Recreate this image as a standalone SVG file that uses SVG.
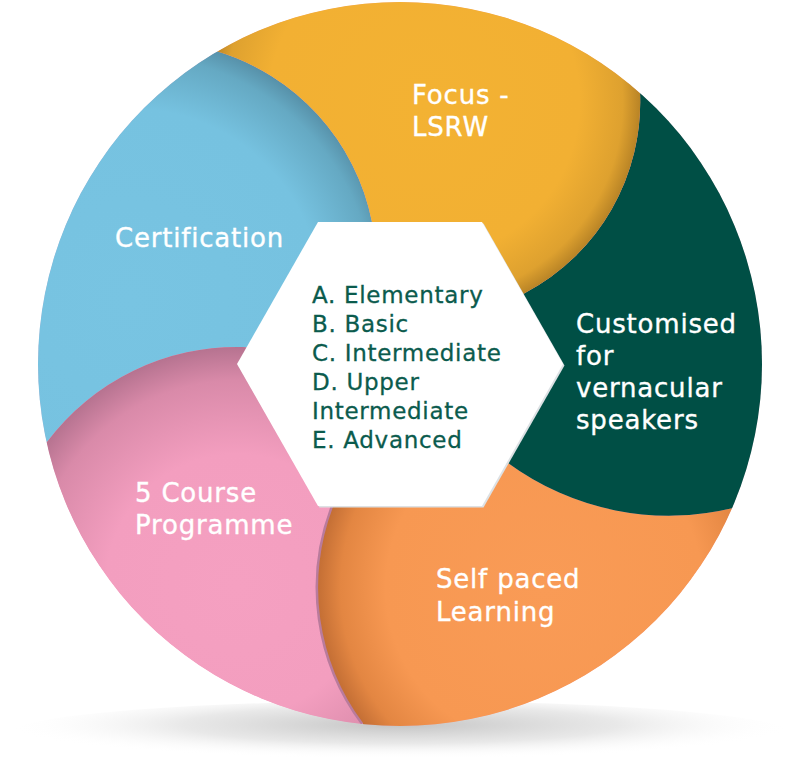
<svg xmlns="http://www.w3.org/2000/svg" width="800" height="765" viewBox="0 0 800 765">
<defs>
<style>
.lbl{font-family:"DejaVu Sans",sans-serif;font-size:26px;fill:#ffffff;stroke:#ffffff;stroke-width:0.35px;letter-spacing:0.8px}
.lst{font-family:"DejaVu Sans",sans-serif;font-size:23px;fill:#0b5b4d;stroke:#0b5b4d;stroke-width:0.3px;letter-spacing:0.7px}
</style>
<clipPath id="disc"><circle cx="400" cy="364" r="362"/></clipPath>
<radialGradient id="gShadow" cx="0.5" cy="0.35" r="0.5">
<stop offset="0" stop-color="#9c9c9c" stop-opacity="0.6"/>
<stop offset="0.55" stop-color="#b4b4b4" stop-opacity="0.3"/>
<stop offset="1" stop-color="#ffffff" stop-opacity="0"/>
</radialGradient>
<radialGradient id="gYellow" gradientUnits="userSpaceOnUse" cx="424" cy="102" r="216">
<stop offset="0" stop-color="#f3b233"/>
<stop offset="0.72" stop-color="#f2b033"/>
<stop offset="0.92" stop-color="#dea12f"/>
<stop offset="1" stop-color="#b98426"/>
</radialGradient>
<radialGradient id="gBlue" gradientUnits="userSpaceOnUse" cx="130" cy="300" r="266">
<stop offset="0" stop-color="#78c4e2"/>
<stop offset="0.72" stop-color="#76c2e0"/>
<stop offset="0.92" stop-color="#65a9c3"/>
<stop offset="1" stop-color="#568fa7"/>
</radialGradient>
<radialGradient id="gPink" gradientUnits="userSpaceOnUse" cx="237" cy="585" r="238">
<stop offset="0" stop-color="#f5a0c1"/>
<stop offset="0.55" stop-color="#f39ebf"/>
<stop offset="0.86" stop-color="#d98aa9"/>
<stop offset="1" stop-color="#b67390"/>
</radialGradient>
<radialGradient id="gOrange" gradientUnits="userSpaceOnUse" cx="544" cy="588" r="226">
<stop offset="0" stop-color="#f99b56"/>
<stop offset="0.7" stop-color="#f79852"/>
<stop offset="0.9" stop-color="#e38642"/>
<stop offset="1" stop-color="#c46f35"/>
</radialGradient>
</defs>
<rect width="800" height="765" fill="#ffffff"/>
<ellipse cx="400" cy="735" rx="395" ry="34" fill="url(#gShadow)"/>
<g clip-path="url(#disc)">
<circle cx="400" cy="364" r="362" fill="#f39ebf"/>
<g id="blue">
<path d="M400,364 L243,347 A238,238 0 0 0 47,442 L-107.7,476.5 A520,520 0 0 1 136.1,-84 L216,51 A224,224 0 0 1 372,222 Z" fill="url(#gBlue)"/>
<text class="lbl" x="115" y="247">Certification</text>
</g>
<g id="pink">
<path d="M400,364 L333,507 A226,226 0 0 0 363,723 L346.5,881.2 A520,520 0 0 1 -107.7,476.5 L47,442 A238,238 0 0 1 243,347 Z" fill="url(#gPink)"/>
<path d="M333,507 A226,226 0 0 0 363,723" fill="none" stroke="#b97b9c" stroke-width="5"/>
<text class="lbl" x="135" y="502">5 Course</text>
<text class="lbl" x="135" y="534">Programme</text>
</g>
<g id="orange">
<path d="M400,364 L508,463 A272,272 0 0 0 733,508 L877.3,570.5 A520,520 0 0 1 346.5,881.2 L363,723 A226,226 0 0 1 333,507 Z" fill="url(#gOrange)"/>
<text class="lbl" x="436" y="588">Self paced</text>
<text class="lbl" x="436" y="621">Learning</text>
</g>
<g id="green">
<path d="M400,364 L525,293 A216,216 0 0 0 640,92 L743.9,-26.1 A520,520 0 0 1 877.3,570.5 L733,508 A272,272 0 0 1 508,463 Z" fill="#004f45"/>
<text class="lbl" x="576" y="333">Customised</text>
<text class="lbl" x="576" y="365">for</text>
<text class="lbl" x="576" y="397">vernacular</text>
<text class="lbl" x="576" y="429">speakers</text>
</g>
<g id="yellow">
<path d="M400,364 L372,222 A224,224 0 0 0 216,51 L136.1,-84 A520,520 0 0 1 743.9,-26.1 L640,92 A216,216 0 0 1 525,293 Z" fill="url(#gYellow)"/>
<text class="lbl" x="412" y="104">Focus -</text>
<text class="lbl" x="412" y="136">LSRW</text>
</g>
</g>
<g id="center">
<polygon points="319.5,223.5 483.5,223.5 564.5,365.5 483.5,507.5 319.5,507.5 238.5,365.5" fill="#dde1e4"/>
<polygon points="318,222 482,222 563,364 482,506 318,506 237,364" fill="#ffffff"/>
<text class="lst" x="312" y="303">A. Elementary</text>
<text class="lst" x="312" y="332">B. Basic</text>
<text class="lst" x="312" y="361">C. Intermediate</text>
<text class="lst" x="312" y="390">D. Upper</text>
<text class="lst" x="312" y="419">Intermediate</text>
<text class="lst" x="312" y="448">E. Advanced</text>
</g>
</svg>
